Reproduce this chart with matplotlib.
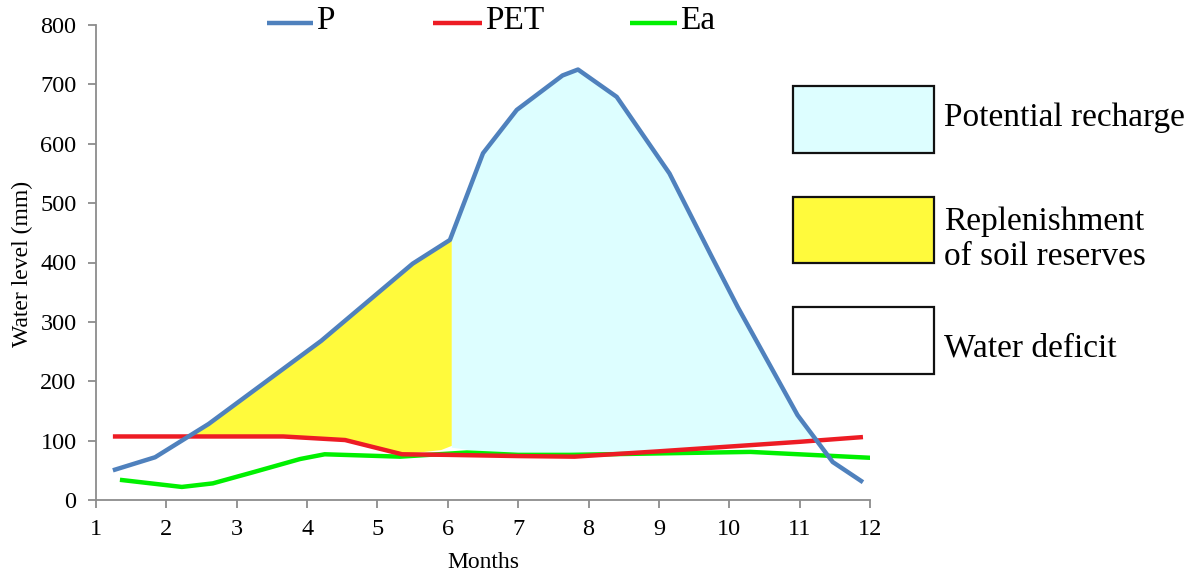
import numpy as np
import matplotlib
matplotlib.use("Agg")
import matplotlib.pyplot as plt
from matplotlib.patches import Rectangle
from matplotlib.lines import Line2D

# ---- data ----
p_x = [1.24, 1.84, 2.6, 4.2, 5.5, 6.03, 6.5, 6.98, 7.63, 7.85, 8.4, 9.15, 9.75, 10.12, 10.97, 11.47, 11.9]
p_y = [50, 72, 128, 268, 398, 438, 584, 657, 715, 725, 679, 550, 410, 325, 143, 64, 30]

pet_x = [1.24, 3.66, 4.54, 5.35, 6.0, 7.0, 7.8, 9.0, 10.0, 11.0, 11.9]
pet_y = [107, 107, 101, 77, 76, 74, 73, 82, 90, 98, 106]

ea_x = [1.34, 2.22, 2.66, 3.24, 3.9, 4.25, 5.32, 6.27, 7.0, 7.73, 10.3, 12.02]
ea_y = [34, 22, 28, 47, 69, 77, 73, 80, 76, 76, 81, 71]

# lower edges of the shaded zones
soil_low_x = [2.2, 3.66, 4.54, 5.35, 5.6, 5.9, 6.05]
soil_low_y = [107, 107, 101, 79, 81, 85, 92]
soil_end = 6.05

rech_low_x = [6.05, 6.6, 7.2, 7.8, 9.0, 10.0, 11.0, 11.9]
rech_low_y = [89, 80, 75, 73, 82, 90, 98, 106]

series_labels = ["P", "PET", "Ea"]
zone_labels = ["Potential recharge", "Replenishment\nof soil reserves", "Water deficit"]

x_ticks = list(range(1, 13))
y_ticks = list(range(0, 801, 100))

c_p = "#4F81BD"
c_pet = "#ED1C24"
c_ea = "#00F000"
c_yel = "#FFFA3C"
c_cyan = "#DDFEFF"

SERIF = ['Liberation Serif', 'DejaVu Serif']
plt.rcParams['font.family'] = SERIF

W, H = 1198, 579
fig = plt.figure(figsize=(W/100, H/100), dpi=100)
ax = fig.add_axes([96/W, 79/H, (870-96)/W, (500-25)/H])

# shaded zones
xs = np.linspace(2.2, soil_end, 400)
top = np.interp(xs, p_x, p_y)
low = np.interp(xs, soil_low_x, soil_low_y)
ax.fill_between(xs, low, top, where=top >= low, color=c_yel, lw=0, interpolate=True, zorder=1)

xr = np.linspace(soil_end, 11.9, 600)
top = np.interp(xr, p_x, p_y)
low = np.interp(xr, rech_low_x, rech_low_y)
ax.fill_between(xr, low, top, where=top >= low, color=c_cyan, lw=0, interpolate=True, zorder=1)

ax.plot(ea_x, ea_y, color=c_ea, lw=3.2, zorder=3, solid_capstyle='butt')
ax.plot(pet_x, pet_y, color=c_pet, lw=3.2, zorder=4, solid_capstyle='butt')
ax.plot(p_x, p_y, color=c_p, lw=3.2, zorder=5, solid_capstyle='butt')

ax.set_xlim(1, 12)
ax.set_ylim(0, 800)
ax.set_xticks(x_ticks)
ax.set_yticks(y_ticks)
for s in ['top', 'right']:
    ax.spines[s].set_visible(False)
for s in ['left', 'bottom']:
    ax.spines[s].set_color('#8C8C8C')
    ax.spines[s].set_linewidth(1.3)
ax.tick_params(axis='both', direction='out', length=6, width=1.3, color='#8C8C8C',
               labelsize=17.5, pad=8)
ax.set_xlabel("Months", fontsize=17)
ax.set_ylabel("Water level (mm)", fontsize=17)
ax.xaxis.set_label_coords((483-96)/(870-96), -(563-500)/(500-25))
ax.yaxis.set_label_coords(-(96-22)/(870-96), (500-264)/(500-25))
ax.xaxis.label.set_va('center')
ax.yaxis.label.set_va('center')

# top legend for lines (placed by hand)
leg_items = [(267, 313, c_p), (433, 482, c_pet), (630, 677, c_ea)]
for (x0, x1, col), lab in zip(leg_items, series_labels):
    fig.add_artist(Line2D([x0/W, x1/W], [1 - 23/H, 1 - 23/H], color=col, lw=3.2,
                          transform=fig.transFigure, solid_capstyle='butt'))
    fig.text((x1 + 3)/W, 1 - 21/H, lab, fontsize=24, ha='left', va='center', family=SERIF)

# right legend boxes
bx0, bx1 = 793, 934
boxes = [(86, 153, c_cyan), (197, 263, c_yel), (307, 374, "white")]
text_y = [118, 239, 348]
for (y0, y1, col), lab, ty in zip(boxes, zone_labels, text_y):
    fig.patches.append(Rectangle((bx0/W, 1 - y1/H), (bx1-bx0)/W, (y1-y0)/H,
                                 transform=fig.transFigure, facecolor=col,
                                 edgecolor='#111111', lw=1.6))
    fig.text(944/W, 1 - ty/H, lab, fontsize=24, ha='left', va='center',
             linespacing=1.2)

fig.savefig("out.png", dpi=100)
